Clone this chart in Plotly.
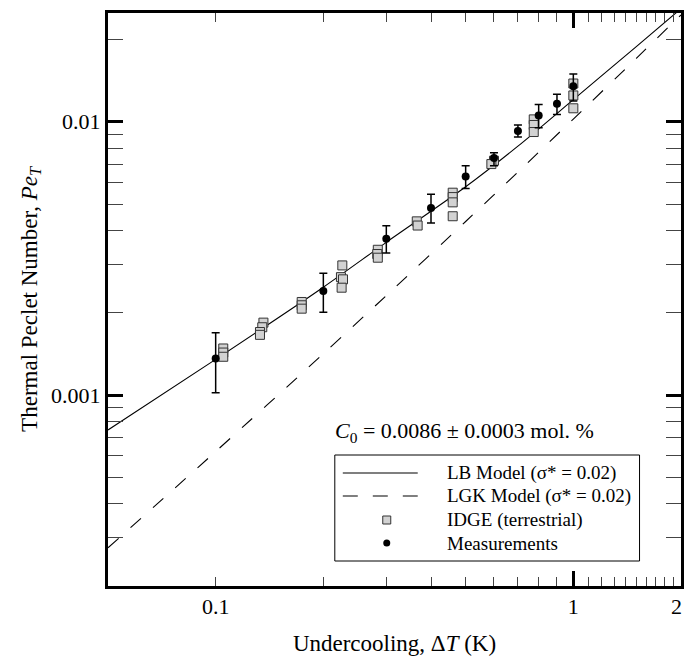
import math
import plotly.graph_objects as go

# ---------------- data ----------------
# LB model (solid) and LGK model (dashed), sigma* = 0.02
lb_dT = [0.05, 0.1, 0.2, 0.3, 0.5, 0.7, 1.0, 1.5, 2.0]
lb_pe = [0.000745, 0.00135, 0.00248, 0.00362, 0.00578, 0.00814, 0.01205, 0.01884, 0.02594]

lgk_dT = [0.05, 0.1, 0.2, 0.3, 0.5, 0.7, 1.0, 1.5, 2.0]
lgk_pe = [0.000276, 0.000621, 0.001416, 0.002312, 0.004315, 0.006546, 0.01023, 0.01706, 0.0246]

# IDGE (terrestrial)
idge_dT = [0.105, 0.105, 0.105,
           0.136, 0.135, 0.133, 0.133,
           0.174, 0.174, 0.174,
           0.226, 0.224, 0.227, 0.225,
           0.284, 0.283, 0.284,
           0.365, 0.367,
           0.46, 0.46, 0.46, 0.46,
           0.60, 0.59,
           0.775, 0.775, 0.775,
           1.0, 1.0, 1.0]
idge_pe = [0.00148, 0.00143, 0.00138,
           0.00184, 0.00177, 0.00170, 0.00166,
           0.00219, 0.00213, 0.00207,
           0.00298, 0.00270, 0.00265, 0.00247,
           0.00340, 0.00328, 0.00318,
           0.00432, 0.00417,
           0.00550, 0.00530, 0.00507, 0.00451,
           0.00720, 0.00700,
           0.01020, 0.00973, 0.00917,
           0.01380, 0.01248, 0.01120]

# Measurements with error bars
meas_dT = [0.1, 0.2, 0.3, 0.4, 0.5, 0.6, 0.7, 0.8, 0.9, 1.0]
meas_pe = [0.00136, 0.00240, 0.00373, 0.00483, 0.00630, 0.00736, 0.00925, 0.01055, 0.01164, 0.01349]
meas_err_plus = [0.00033, 0.00039, 0.00043, 0.00060, 0.00060, 0.00034, 0.00048, 0.00102, 0.00096, 0.00147]
meas_err_minus = [0.00034, 0.00039, 0.00042, 0.00057, 0.00060, 0.00046, 0.00045, 0.00105, 0.00100, 0.00159]

x_tick_vals = [0.1, 1]
x_tick_text = ["0.1", "1"]
x_end_label = "2"
x_minor = [0.1, 0.2, 0.3, 0.4, 0.5, 0.6, 0.7, 0.8, 0.9,
           1.1, 1.2, 1.3, 1.4, 1.5, 1.6, 1.7, 1.8, 1.9]
y_tick_vals = [0.001, 0.01]
y_tick_text = ["0.001", "0.01"]
y_minor = [0.0002, 0.0003, 0.0004, 0.0005, 0.0006, 0.0007, 0.0008, 0.0009,
           0.002, 0.003, 0.004, 0.005, 0.006, 0.007, 0.008, 0.009, 0.02]

x_range = [0.05, 2.0]
y_range = [0.0002, 0.025]

# ---------------- layout geometry ----------------
W, H = 685, 656
ML, MR, MT, MB = 108, 3.5, 13, 70
PW, PH = W - ML - MR, H - MT - MB
FONT = "Liberation Serif"


def px(xp):
    return (xp - ML) / PW


def py(yp):
    return (H - MB - yp) / PH


fig = go.Figure()

fig.add_trace(go.Scatter(x=lb_dT, y=lb_pe, mode="lines",
                         line=dict(color="black", width=1.1, shape="spline", smoothing=0.8),
                         name="LB Model", showlegend=False, hoverinfo="skip"))
fig.add_trace(go.Scatter(x=lgk_dT, y=lgk_pe, mode="lines",
                         line=dict(color="black", width=1.1, dash="14px,16px", shape="spline", smoothing=0.8),
                         name="LGK Model", showlegend=False, hoverinfo="skip"))
fig.add_trace(go.Scatter(x=idge_dT, y=idge_pe, mode="markers",
                         marker=dict(symbol="square", size=9, color="#d2d2d2", line=dict(color="#333333", width=1)),
                         name="IDGE (terrestrial)", showlegend=False))
fig.add_trace(go.Scatter(x=meas_dT, y=meas_pe, mode="markers",
                         marker=dict(symbol="circle", size=8, color="black"),
                         error_y=dict(type="data", array=meas_err_plus, arrayminus=meas_err_minus,
                                      color="black", thickness=1.5, width=4),
                         name="Measurements", showlegend=False))
# empty trace so the label axis is drawn
fig.add_trace(go.Scatter(x=[], y=[], xaxis="x2", yaxis="y", showlegend=False, hoverinfo="skip"))

lx = [math.log10(v) for v in x_range]
ly = [math.log10(v) for v in y_range]

fig.update_layout(
    width=W, height=H,
    margin=dict(l=ML, r=MR, t=MT, b=MB, autoexpand=False),
    paper_bgcolor="white", plot_bgcolor="white",
    font=dict(family=FONT, size=22, color="black"),
    showlegend=False,
    xaxis=dict(type="log", range=lx, tickmode="array", tickvals=[1], showticklabels=False,
               ticks="inside", ticklen=15, tickwidth=3, tickcolor="black",
               showline=True, linewidth=3, linecolor="black", mirror="allticks",
               showgrid=False, zeroline=False, automargin=False,
               minor=dict(tickmode="array", tickvals=x_minor, ticks="inside", ticklen=9,
                          tickwidth=1, tickcolor="#444444", showgrid=False)),
    xaxis2=dict(type="log", range=lx, overlaying="x", anchor="y", side="bottom",
                tickmode="array", tickvals=x_tick_vals, ticktext=x_tick_text, ticks="",
                ticklabelstandoff=5,
                showline=False, showgrid=False, zeroline=False, automargin=False,
                tickfont=dict(family=FONT, size=22),
                title=dict(text="Undercooling, Δ<i>T</i> (K)", font=dict(family=FONT, size=23), standoff=17)),
    yaxis=dict(type="log", range=ly, tickmode="array", tickvals=y_tick_vals, ticktext=y_tick_text,
               ticks="inside", ticklen=15, tickwidth=3, tickcolor="black",
               showline=True, linewidth=3, linecolor="black", mirror="allticks",
               showgrid=False, zeroline=False, automargin=False,
               tickfont=dict(family=FONT, size=22),
               minor=dict(tickmode="array", tickvals=y_minor, ticks="inside", ticklen=9,
                          tickwidth=1, tickcolor="#444444", showgrid=False),
               title=dict(text="Thermal Peclet Number, <i>Pe</i><sub><i>T</i></sub>",
                          font=dict(family=FONT, size=23), standoff=8)),
)

# end label "2" at the right end of the x axis (kept inside the page)
fig.add_annotation(xref="paper", yref="paper", x=px(684), y=py(606), text=x_end_label, showarrow=False,
                   xanchor="right", yanchor="middle", borderpad=0,
                   font=dict(family=FONT, size=22, color="black"))

# ---------------- manual legend ----------------
fig.add_shape(type="rect", xref="paper", yref="paper", x0=px(335), x1=px(640), y0=py(561), y1=py(455),
              line=dict(color="black", width=1), fillcolor="white", layer="above")
rows = [473, 496, 520, 543]
labels = ["LB Model (σ* = 0.02)", "LGK Model (σ* = 0.02)", "IDGE (terrestrial)", "Measurements"]
fig.add_shape(type="line", xref="paper", yref="paper", x0=px(343), x1=px(418), y0=py(rows[0]), y1=py(rows[0]),
              line=dict(color="black", width=1.1), layer="above")
fig.add_shape(type="line", xref="paper", yref="paper", x0=px(343), x1=px(418), y0=py(rows[1]), y1=py(rows[1]),
              line=dict(color="black", width=1.1, dash="15px,15px"), layer="above")
fig.add_shape(type="rect", xref="paper", yref="paper", x0=px(383), x1=px(391), y0=py(rows[2] + 4), y1=py(rows[2] - 4),
              line=dict(color="#333333", width=1), fillcolor="#d2d2d2", layer="above")
fig.add_shape(type="circle", xref="paper", yref="paper", x0=px(383.5), x1=px(390.5),
              y0=py(rows[3] + 3.5), y1=py(rows[3] - 3.5),
              line=dict(color="black", width=0), fillcolor="black", layer="above")
for r, t in zip(rows, labels):
    fig.add_annotation(xref="paper", yref="paper", x=px(445), y=py(r), text=t, showarrow=False,
                       xanchor="left", yanchor="middle", font=dict(family=FONT, size=19, color="black"))

fig.add_annotation(xref="paper", yref="paper", x=px(465), y=py(432),
                   text="<i>C</i><sub>0</sub> = 0.0086 ± 0.0003 mol. %", showarrow=False,
                   xanchor="center", yanchor="middle", font=dict(family=FONT, size=22, color="black"))

# the page's default body margin would shift the figure by 8 px; remove it; hide the modebar
fig.write_html("out.html", config={"displayModeBar": False},
               post_script="document.body.style.margin='0';")
